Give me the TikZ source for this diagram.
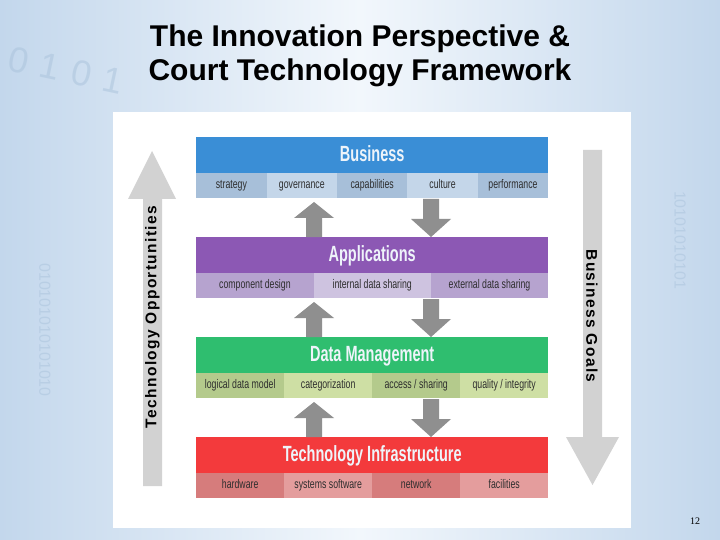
\documentclass[tikz,border=0pt]{standalone}
\usepackage{fontspec}
\usepackage{graphicx}
\setmainfont{Liberation Sans}
\newfontfamily\serifnum{Liberation Serif}
\newfontfamily\spacedsans[LetterSpace=9]{Liberation Sans}
\newcommand\narrowtxt[1]{\scalebox{0.66}[1]{#1}}
\newcommand\narrowcell[1]{\scalebox{0.70}[1]{#1}}
\definecolor{bgedge}{HTML}{C3D7EC}
\definecolor{bgmid}{HTML}{F2F7FC}
\definecolor{digit}{HTML}{A9C2DB}
\definecolor{headtxt}{HTML}{EEF4FA}
\definecolor{celltxt}{HTML}{2E2E2E}
\definecolor{bizH}{HTML}{3A8ED6}
\definecolor{bizA}{HTML}{A7BFD9}
\definecolor{bizB}{HTML}{C4D6E9}
\definecolor{appH}{HTML}{8C58B4}
\definecolor{appA}{HTML}{B6A3CF}
\definecolor{appB}{HTML}{CEC3E0}
\definecolor{datH}{HTML}{2FBE6F}
\definecolor{datA}{HTML}{B4CA8C}
\definecolor{datB}{HTML}{CEDFA4}
\definecolor{tecH}{HTML}{F33A3C}
\definecolor{tecA}{HTML}{D67C7C}
\definecolor{tecB}{HTML}{E49D9D}
\definecolor{smallarrow}{HTML}{8F8F8F}
\definecolor{bigarrow}{HTML}{D2D2D2}
\begin{document}
\begin{tikzpicture}[x=1pt,y=-1pt,
  headbar/.style={anchor=north west, inner sep=0pt, minimum height=36pt, minimum width=352pt,
    text height=16pt, text depth=4pt,
    text=headtxt, font=\fontsize{22}{22}\selectfont\bfseries},
  cellbox/.style={anchor=north west, inner sep=0pt, minimum height=25pt,
    text height=9pt, text depth=2.5pt,
    text=celltxt, font=\fontsize{12.5}{12.5}\selectfont},
  bgdigits/.style={text=digit, opacity=0.5, font=\fontsize{#1}{#1}\selectfont},
  sidetext/.style={font=\spacedsans\bfseries\fontsize{15.5}{15.5}\selectfont, text=black}]
\useasboundingbox (0,0) rectangle (720,540);
% background
\shade[left color=bgedge, right color=bgedge, middle color=bgmid] (0,0) rectangle (720,540);
\node[bgdigits=36, rotate=-12] (d1) at (66,70) {0\hspace{12pt}1\hspace{12pt}0\hspace{12pt}1};
\node[bgdigits=16, rotate=-90] (d3) at (45,330) {010101010101010};
\node[bgdigits=16, rotate=-90] (d7) at (680,240) {10101010101};
% white panel
\fill[white] (113,112) rectangle (631,528);
% title
\node[font=\fontsize{30}{35}\selectfont\bfseries, anchor=base] (title1) at (360,47) {The Innovation Perspective \&};
\node[font=\fontsize{30}{35}\selectfont\bfseries, anchor=base] (title2) at (360,81) {Court Technology Framework};
% big side arrows
\fill[bigarrow] (143,486) -- (162,486) -- (162,199) -- (176,199) -- (152,151) -- (128,199) -- (143,199) -- cycle;
\node[sidetext, rotate=90] (techopp) at (152.5,317) {Technology Opportunities};
\fill[bigarrow] (583,150) -- (602,150) -- (602,437) -- (619,437) -- (592.5,485) -- (566,437) -- (583,437) -- cycle;
\node[sidetext, rotate=-90] (bizgoals) at (592,316) {Business Goals};
% Business layer
\node[headbar, fill=bizH] (business) at (196,137) {\narrowtxt{Business}};
\node[cellbox, fill=bizA, minimum width=70.4pt] (strategy) at (196,173) {\narrowcell{strategy}};
\node[cellbox, fill=bizB, minimum width=70.4pt] (governance) at (266.4,173) {\narrowcell{governance}};
\node[cellbox, fill=bizA, minimum width=70.4pt] (capabilities) at (336.8,173) {\narrowcell{capabilities}};
\node[cellbox, fill=bizB, minimum width=70.4pt] (culture) at (407.2,173) {\narrowcell{culture}};
\node[cellbox, fill=bizA, minimum width=70.4pt] (performance) at (477.6,173) {\narrowcell{performance}};
% Applications layer
\node[headbar, fill=appH] (applications) at (196,237) {\narrowtxt{Applications}};
\node[cellbox, fill=appA, minimum width=117.4pt] (component) at (196,273) {\narrowcell{component design}};
\node[cellbox, fill=appB, minimum width=117.4pt] (internal) at (313.3,273) {\narrowcell{internal data sharing}};
\node[cellbox, fill=appA, minimum width=117.4pt] (external) at (430.6,273) {\narrowcell{external data sharing}};
% Data Management layer
\node[headbar, fill=datH] (datamgmt) at (196,337) {\narrowtxt{Data Management}};
\node[cellbox, fill=datA, minimum width=88pt] (logical) at (196,373) {\narrowcell{logical data model}};
\node[cellbox, fill=datB, minimum width=88pt] (categ) at (284,373) {\narrowcell{categorization}};
\node[cellbox, fill=datA, minimum width=88pt] (access) at (372,373) {\narrowcell{access / sharing}};
\node[cellbox, fill=datB, minimum width=88pt] (quality) at (460,373) {\narrowcell{quality / integrity}};
% Technology Infrastructure layer
\node[headbar, fill=tecH] (techinfra) at (196,437) {\narrowtxt{Technology Infrastructure}};
\node[cellbox, fill=tecA, minimum width=88pt] (hardware) at (196,473) {\narrowcell{hardware}};
\node[cellbox, fill=tecB, minimum width=88pt] (syssoft) at (284,473) {\narrowcell{systems software}};
\node[cellbox, fill=tecA, minimum width=88pt] (network) at (372,473) {\narrowcell{network}};
\node[cellbox, fill=tecB, minimum width=88pt] (facilities) at (460,473) {\narrowcell{facilities}};
% small arrows between layers
\foreach \t in {198,298,398}{
  \fill[smallarrow] (314,\t+4) -- (334,\t+20) -- (322,\t+20) -- (322,\t+39) -- (306,\t+39) -- (306,\t+20) -- (294,\t+20) -- cycle;
  \fill[smallarrow] (423,\t+1) -- (439,\t+1) -- (439,\t+21) -- (451,\t+21) -- (431,\t+39) -- (411,\t+21) -- (423,\t+21) -- cycle;
}
% page number
\node[font=\serifnum\fontsize{10}{10}\selectfont] (pagenum) at (695,521) {12};
\end{tikzpicture}
\end{document}
